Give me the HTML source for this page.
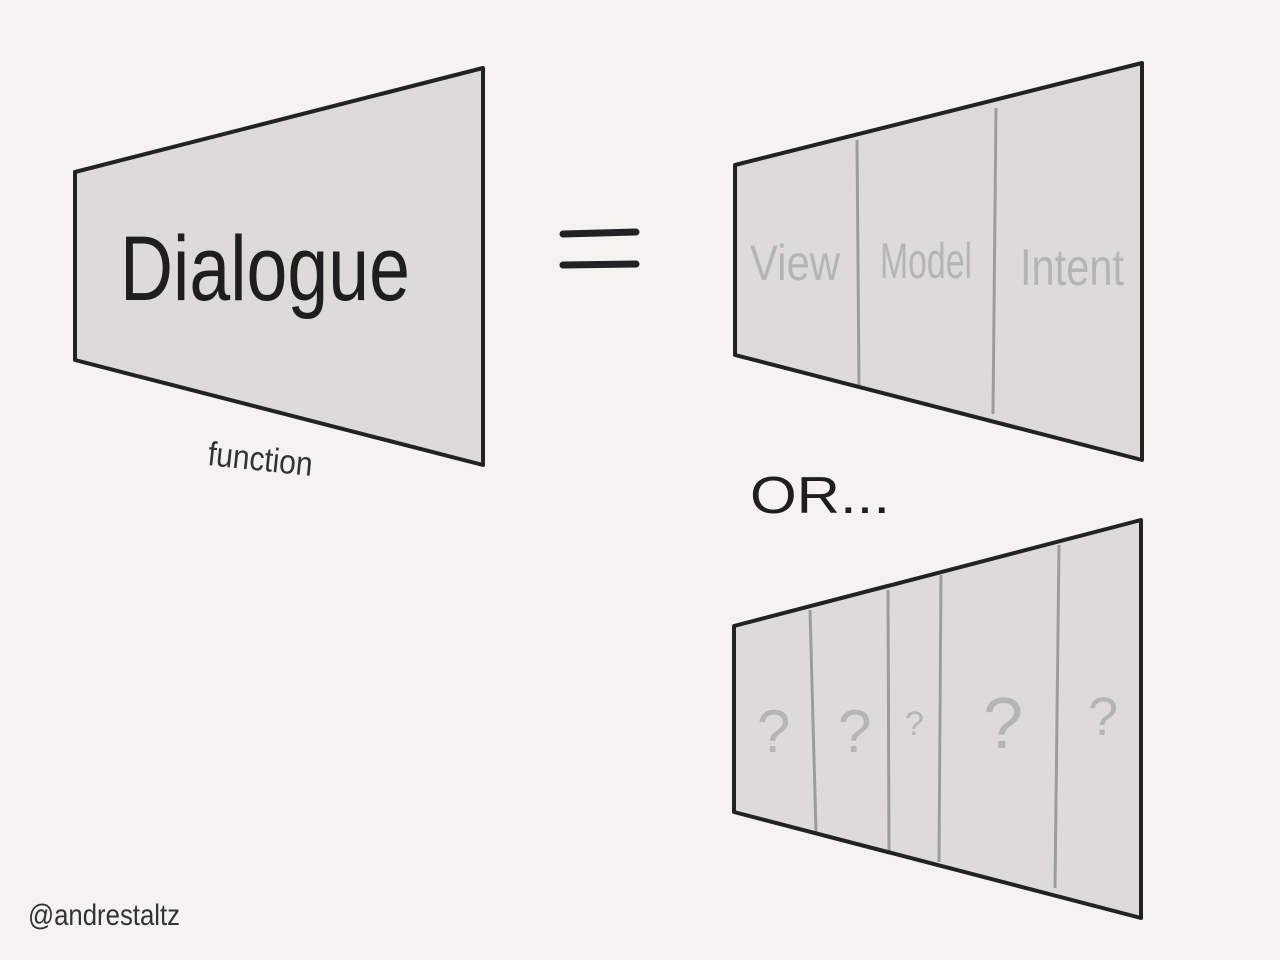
<!DOCTYPE html>
<html><head><meta charset="utf-8"><style>
html,body{margin:0;padding:0;background:#f4f3ef;}
svg{display:block}
text{font-family:"Liberation Sans",sans-serif;}
</style></head><body>
<svg width="1280" height="960" viewBox="0 0 1280 960" xmlns="http://www.w3.org/2000/svg">
<rect width="1280" height="960" fill="#f4f3ef"/>
<!-- left trapezoid -->
<polygon points="75,172 483,68 483,465 75,360" fill="#dcdbd7" stroke="#222" stroke-width="4" stroke-linejoin="round"/>
<text x="120" y="300" font-size="92" fill="#1e1e1e" font-weight="normal" textLength="290" lengthAdjust="spacingAndGlyphs" style="font-family:'Liberation Sans',sans-serif">Dialogue</text>
<text x="207" y="465" font-size="34" fill="#333" transform="rotate(6 207 465)" textLength="105" lengthAdjust="spacingAndGlyphs">function</text>
<!-- equals -->
<line x1="563" y1="234" x2="636" y2="232" stroke="#222" stroke-width="7" stroke-linecap="round"/>
<line x1="563" y1="265" x2="636" y2="264" stroke="#222" stroke-width="7" stroke-linecap="round"/>
<!-- top right -->
<polygon points="735,165 1142,63 1142,460 735,355" fill="#dcdbd7"/>
<line x1="857" y1="140" x2="859" y2="386" stroke="#9c9c9a" stroke-width="3"/>
<line x1="996" y1="108" x2="993" y2="414" stroke="#9c9c9a" stroke-width="3"/>
<polygon points="735,165 1142,63 1142,460 735,355" fill="none" stroke="#222" stroke-width="4" stroke-linejoin="round"/>
<text x="750" y="280" font-size="50" fill="#b5b5b3" textLength="90" lengthAdjust="spacingAndGlyphs">View</text>
<text x="880" y="278" font-size="50" fill="#b5b5b3" textLength="92" lengthAdjust="spacingAndGlyphs">Model</text>
<text x="1020" y="285" font-size="52" fill="#b5b5b3" textLength="104" lengthAdjust="spacingAndGlyphs">Intent</text>
<!-- OR... -->
<text x="750" y="513" font-size="52" fill="#1e1e1e" textLength="140" lengthAdjust="spacingAndGlyphs">OR...</text>
<!-- bottom right -->
<polygon points="734,626 1141,520 1141,918 734,812" fill="#dcdbd7"/>
<line x1="810" y1="610" x2="816" y2="832" stroke="#9c9c9a" stroke-width="3"/>
<line x1="888" y1="590" x2="889" y2="851" stroke="#9c9c9a" stroke-width="3"/>
<line x1="941" y1="575" x2="939" y2="862" stroke="#9c9c9a" stroke-width="3"/>
<line x1="1059" y1="545" x2="1055" y2="888" stroke="#9c9c9a" stroke-width="3"/>
<polygon points="734,626 1141,520 1141,918 734,812" fill="none" stroke="#222" stroke-width="4" stroke-linejoin="round"/>
<g fill="#b5b5b3">
<text x="757" y="752" font-size="60">?</text>
<text x="838" y="752" font-size="60">?</text>
<text x="905" y="735" font-size="34">?</text>
<text x="983" y="748" font-size="72">?</text>
<text x="1088" y="735" font-size="54">?</text>
</g>
<text x="28" y="925" font-size="30" fill="#333" textLength="152" lengthAdjust="spacingAndGlyphs">@andrestaltz</text>
</svg>
</body></html>
